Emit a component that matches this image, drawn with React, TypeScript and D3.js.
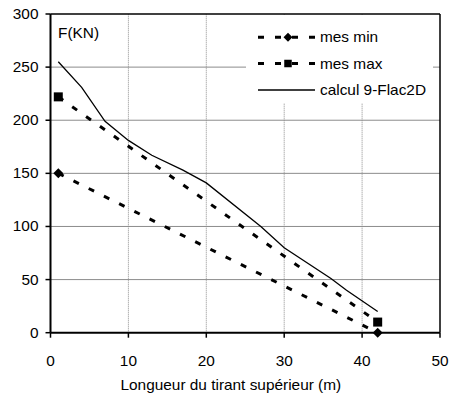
import React from "react";
import * as d3 from "d3";

const xTicks = [0, 10, 20, 30, 40, 50];
const yTicks = [0, 50, 100, 150, 200, 250, 300];

const mesMinX = [1, 42];
const mesMinY = [150, 0];
const mesMaxX = [1, 42];
const mesMaxY = [222, 10];
const calculX = [1, 4, 7, 10, 13, 17, 20, 27, 30, 36, 38, 42];
const calculY = [255, 231, 199, 181, 167, 153, 141, 100, 80, 51, 40, 20];

const legendLabels = ["mes min", "mes max", "calcul 9-Flac2D"];
const xTitle = "Longueur du tirant supérieur (m)";
const yTitle = "F(KN)";

const FONT = "'Liberation Sans', Arial, sans-serif";
const SX = 1.1;

function T({ x, y, anchor = "start", children }: any) {
  return (
    <text
      transform={`translate(${x},${y}) scale(${SX},1)`}
      textAnchor={anchor}
      fontFamily={FONT}
      fontSize={14}
      fill="#000"
    >
      {children}
    </text>
  );
}

function Diamond({ x, y, r = 5 }: any) {
  return <path d={`M${x},${y - r}L${x + r},${y}L${x},${y + r}L${x - r},${y}Z`} fill="#000" />;
}
function Square({ x, y, s = 9 }: any) {
  return <rect x={x - s / 2} y={y - s / 2} width={s} height={s} fill="#000" />;
}

export default function App() {
  const W = 452, H = 397;
  const x = d3.scaleLinear().domain([0, 50]).range([50.5, 440]);
  const y = d3.scaleLinear().domain([0, 300]).range([332.7, 14]);
  const line = d3.line<[number, number]>().x(d => x(d[0])).y(d => y(d[1]));
  const minPts = mesMinX.map((v, i) => [v, mesMinY[i]] as [number, number]);
  const maxPts = mesMaxX.map((v, i) => [v, mesMaxY[i]] as [number, number]);
  const calPts = calculX.map((v, i) => [v, calculY[i]] as [number, number]);
  const dash = "6 11";

  return (
    <svg width={W} height={H} style={{ position: "absolute", left: 0, top: 0 }}>
      <rect width={W} height={H} fill="#fff" />
      {/* grid */}
      {yTicks.filter(t => t > 0 && t < 300).map(t => (
        <line key={"gy" + t} x1={x(0)} x2={x(50)} y1={y(t)} y2={y(t)} stroke="#8c8c8c" strokeWidth={1} />
      ))}
      {xTicks.filter(t => t > 0 && t < 50).map(t => (
        <line key={"gx" + t} x1={x(t)} x2={x(t)} y1={y(0)} y2={y(300)} stroke="#8c8c8c" strokeWidth={1} strokeDasharray="1 1" />
      ))}
      {/* legend background */}
      <rect x={246} y={15} width={187} height={88} fill="#fff" />
      {/* border */}
      <line x1={x(0)} x2={x(50)} y1={y(300)} y2={y(300)} stroke="#000" strokeWidth={1.5} />
      <line x1={x(50)} x2={x(50)} y1={y(300)} y2={y(0)} stroke="#000" strokeWidth={1.5} />
      <line x1={x(0)} x2={x(0)} y1={y(300)} y2={y(0)} stroke="#000" strokeWidth={2} />
      <line x1={x(0)} x2={x(50)} y1={y(0)} y2={y(0)} stroke="#000" strokeWidth={2} />
      {/* ticks */}
      {yTicks.map(t => (
        <line key={"ty" + t} x1={x(0) - 5} x2={x(0)} y1={y(t)} y2={y(t)} stroke="#000" strokeWidth={1.5} />
      ))}
      {xTicks.map(t => (
        <line key={"tx" + t} x1={x(t)} x2={x(t)} y1={y(0)} y2={y(0) + 5} stroke="#000" strokeWidth={1.5} />
      ))}
      {yTicks.map(t => (
        <T key={"ly" + t} x={38.5} y={y(t) + 5} anchor="end">{t}</T>
      ))}
      {xTicks.map(t => (
        <T key={"lx" + t} x={x(t)} y={366} anchor="middle">{t}</T>
      ))}
      <T x={120.5} y={390}>{xTitle}</T>
      <T x={58} y={38}>{yTitle}</T>
      {/* series */}
      <path d={line(calPts) || ""} fill="none" stroke="#000" strokeWidth={1.3} />
      <path d={line(maxPts) || ""} fill="none" stroke="#000" strokeWidth={3} strokeDasharray={dash} />
      <path d={line(minPts) || ""} fill="none" stroke="#000" strokeWidth={3} strokeDasharray={dash} />
      {maxPts.map((p, i) => <Square key={"sq" + i} x={x(p[0])} y={y(p[1])} />)}
      {minPts.map((p, i) => <Diamond key={"dm" + i} x={x(p[0])} y={y(p[1])} r={5} />)}
      {/* legend */}
      {legendLabels.map((lab, i) => {
        const cy = [37.3, 63.5, 90][i];
        return (
          <g key={lab}>
            {i < 2 ? (
              <line x1={258} x2={316} y1={cy} y2={cy} stroke="#000" strokeWidth={3} strokeDasharray={dash} />
            ) : (
              <line x1={258} x2={315} y1={cy} y2={cy} stroke="#000" strokeWidth={1.3} />
            )}
            {i === 0 && <Diamond x={288} y={cy} r={4.5} />}
            {i === 1 && <Square x={288} y={cy} s={7.5} />}
            <T x={320} y={cy + 5}>{lab}</T>
          </g>
        );
      })}
    </svg>
  );
}
